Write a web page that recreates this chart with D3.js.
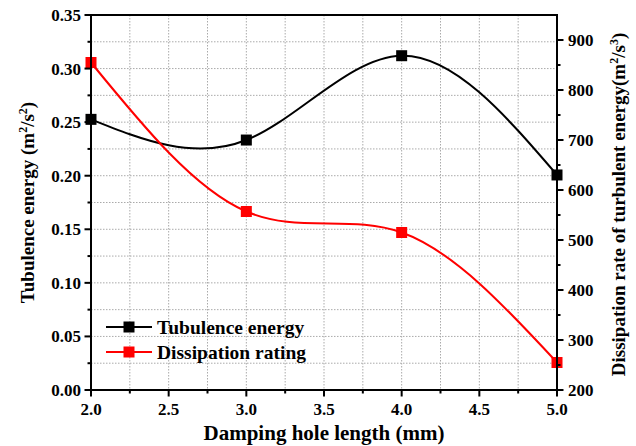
<!DOCTYPE html>
<html><head><meta charset="utf-8">
<script src="https://cdn.jsdelivr.net/npm/d3@7"></script>
<style>body{margin:0;background:#fff}svg{display:block}text{font-family:"Liberation Serif","Times New Roman",serif;font-weight:bold}</style>
</head><body><svg id="c" width="636" height="446"></svg>
<script>
const xValues = [2.0, 3.0, 4.0, 5.0];
const turbulenceEnergy = [0.2526, 0.2333, 0.312, 0.2007];
const dissipationRate = [855, 557, 515, 255];
const seriesNames = ["Tubulence energy", "Dissipation rating"];
const xTicks = [2.0, 2.5, 3.0, 3.5, 4.0, 4.5, 5.0];
const yLeftTicks = [0, 0.05, 0.10, 0.15, 0.20, 0.25, 0.30, 0.35];
const yRightTicks = [200, 300, 400, 500, 600, 700, 800, 900];

const svg = d3.select("#c");
const L = 91, R = 557, T = 15, B = 390;
const x = d3.scaleLinear().domain([2, 5]).range([L, R]);
const yL = d3.scaleLinear().domain([0, 0.35]).range([B, T]);
const yR = d3.scaleLinear().domain([200, 950]).range([B, T]);

// grid
const g = svg.append("g");
d3.range(1, 14).forEach(i => {
  const v = i * 0.025;
  g.append("line").attr("x1", L).attr("x2", R).attr("y1", yL(v)).attr("y2", yL(v))
    .attr("stroke", "#aaa").attr("stroke-width", 1).attr("stroke-dasharray", "1.5,1.5");
});
d3.range(1, 12).forEach(i => {
  const v = 2 + i * 0.25;
  g.append("line").attr("y1", T).attr("y2", B).attr("x1", x(v)).attr("x2", x(v))
    .attr("stroke", "#aaa").attr("stroke-width", 1).attr("stroke-dasharray", "1.5,1.5");
});

// curves
const lineL = d3.line().x((d, i) => x(xValues[i])).y(d => yL(d)).curve(d3.curveNatural);
const lineR = d3.line().x((d, i) => x(xValues[i])).y(d => yR(d)).curve(d3.curveNatural);
svg.append("path").attr("d", lineL(turbulenceEnergy)).attr("fill", "none").attr("stroke", "#000").attr("stroke-width", 2);
svg.append("path").attr("d", lineR(dissipationRate)).attr("fill", "none").attr("stroke", "#ff0000").attr("stroke-width", 2);
const s = 11;
svg.selectAll(".mb").data(turbulenceEnergy).enter().append("rect")
  .attr("x", (d, i) => x(xValues[i]) - s / 2).attr("y", d => yL(d) - s / 2).attr("width", s).attr("height", s).attr("fill", "#000");
svg.selectAll(".mr").data(dissipationRate).enter().append("rect")
  .attr("x", (d, i) => x(xValues[i]) - s / 2).attr("y", d => yR(d) - s / 2).attr("width", s).attr("height", s).attr("fill", "#ff0000");

// axes
const ax = svg.append("g").attr("stroke", "#000");
ax.append("rect").attr("x", L).attr("y", T).attr("width", R - L).attr("height", B - T).attr("fill", "none").attr("stroke-width", 2);
d3.range(0, 15).forEach(i => {
  const v = i * 0.025;
  ax.append("line").attr("x1", L).attr("x2", L - (i % 2 ? 3.5 : 6.5)).attr("y1", yL(v)).attr("y2", yL(v)).attr("stroke-width", 2);
});
d3.range(0, 13).forEach(i => {
  const v = 2 + i * 0.25;
  ax.append("line").attr("y1", B).attr("y2", B + (i % 2 ? 3.5 : 6.5)).attr("x1", x(v)).attr("x2", x(v)).attr("stroke-width", 2);
});
d3.range(0, 15).forEach(i => {
  const v = 200 + i * 50;
  ax.append("line").attr("x1", R).attr("x2", R + (i % 2 ? 3.5 : 6.5)).attr("y1", yR(v)).attr("y2", yR(v)).attr("stroke-width", 2);
});

const fs = 17;
svg.selectAll(".tl").data(yLeftTicks).enter().append("text")
  .attr("x", L - 10).attr("y", d => yL(d) + 6).attr("text-anchor", "end").attr("font-size", fs).text(d => d.toFixed(2));
svg.selectAll(".tr").data(yRightTicks).enter().append("text")
  .attr("x", R + 11).attr("y", d => yR(d) + 6).attr("text-anchor", "start").attr("font-size", fs).text(d => d);
svg.selectAll(".tb").data(xTicks).enter().append("text")
  .attr("x", d => x(d)).attr("y", B + 25).attr("text-anchor", "middle").attr("font-size", fs).text(d => d.toFixed(1));

// titles
svg.append("text").attr("x", (L + R) / 2).attr("y", 440).attr("text-anchor", "middle").attr("font-size", 21)
  .text("Damping hole length (mm)");
const tl = svg.append("text").attr("transform", `translate(34,${(T + B) / 2}) rotate(-90)`).attr("text-anchor", "middle").attr("font-size", 19);
tl.append("tspan").text("Tubulence energy (m");
tl.append("tspan").attr("dy", -7).attr("font-size", 12).text("2");
tl.append("tspan").attr("dy", 7).text("/s");
tl.append("tspan").attr("dy", -7).attr("font-size", 12).text("2");
tl.append("tspan").attr("dy", 7).text(")");
const tr = svg.append("text").attr("transform", `translate(625,${(T + B) / 2 + 2}) rotate(-90)`).attr("text-anchor", "middle").attr("font-size", 19);
tr.append("tspan").text("Dissipation rate of turbulent energy(m");
tr.append("tspan").attr("dy", -7).attr("font-size", 12).text("2");
tr.append("tspan").attr("dy", 7).text("/s");
tr.append("tspan").attr("dy", -7).attr("font-size", 12).text("3");
tr.append("tspan").attr("dy", 7).text(")");

// legend
const colors = ["#000", "#ff0000"];
const leg = svg.append("g");
seriesNames.forEach((n, i) => {
  const yy = 327 + i * 25;
  leg.append("line").attr("x1", 106).attr("x2", 152).attr("y1", yy).attr("y2", yy).attr("stroke", colors[i]).attr("stroke-width", 2);
  leg.append("rect").attr("x", 129 - s / 2).attr("y", yy - s / 2).attr("width", s).attr("height", s).attr("fill", colors[i]);
  leg.append("text").attr("x", 157).attr("y", yy + 7).attr("font-size", 19.5).text(n);
});
</script></body></html>
